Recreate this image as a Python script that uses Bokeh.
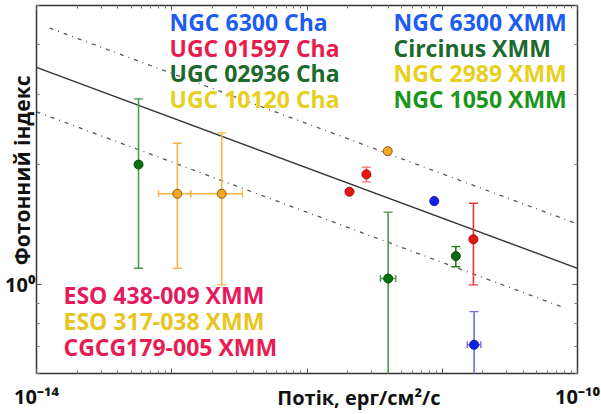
import math
from bokeh.plotting import figure
from bokeh.models import ColumnDataSource, FixedTicker, LogAxis, Label, Range1d
from bokeh.embed import file_html
from bokeh.resources import INLINE

NaN = float("nan")

# ---- fitted relation and its band (log-log straight lines) ----
fit_x = [1e-14, 1e-10]
fit_y = [3.50, 1.10]
upper_x = [1.25e-14, 1e-10]
upper_y = [4.39, 1.42]
lower_x = [1e-14, 8.15e-11]
lower_y = [2.71, 0.874]

# ---- measured points: flux (erg/cm^2/s) and photon index ----
flux = [5.68e-14, 1.10e-13, 2.34e-13, 3.95e-12, 2.06e-12, 2.75e-12,
        8.73e-12, 1.70e-11, 1.26e-11, 3.98e-12, 1.72e-11]
index = [2.00, 1.69, 1.69, 2.16, 1.71, 1.89, 1.62, 1.30, 1.18, 1.037, 0.708]
index_lo = [1.10, 1.10, 1.00, NaN, NaN, 1.81, NaN, 1.00, 1.11, 0.55, 0.55]
index_hi = [2.92, 2.26, 2.40, NaN, NaN, 1.97, NaN, 1.60, 1.246, 1.52, 0.857]
flux_lo = [5.45e-14, 7.98e-14, 1.38e-13, NaN, NaN, 2.65e-12, NaN, NaN, NaN, 3.49e-12, 1.53e-11]
flux_hi = [5.90e-14, 1.38e-13, 3.33e-13, NaN, NaN, 2.85e-12, NaN, NaN, NaN, 4.54e-12, 1.93e-11]

# ---- source names (coloured text key) ----
names_cha = ["NGC 6300 Cha", "UGC 01597 Cha", "UGC 02936 Cha", "UGC 10120 Cha"]
names_xmm = ["NGC 6300 XMM", "Circinus XMM", "NGC 2989 XMM", "NGC 1050 XMM"]
names_bottom = ["ESO 438-009 XMM", "ESO 317-038 XMM", "CGCG179-005 XMM"]

# ---- axis ticks and labels ----
x_major = [1e-14, 1e-13, 1e-12, 1e-11, 1e-10]
x_major_labels = ["10⁻¹⁴", "", "", "", "10⁻¹⁰"]
y_major = [1.0]
y_major_labels = ["10⁰"]
x_title = "Потік, ерг/см²/с"
y_title = "Фотонний індекс"

# ---- styles ----
fill_cols = ["#0c6e12", "#f5a623", "#f5a623", "#f5a623", "#e8140e", "#e8140e",
             "#1020ee", "#e8140e", "#0c6e12", "#0c6e12", "#1020ee"]
edge_cols = ["#0a4a0a", "#8a5a10", "#8a5a10", "#8a5a10", "#a01010", "#a01010",
             "#10108a", "#a01010", "#0a4a0a", "#0a4a0a", "#10108a"]
bar_cols = ["#4e9a4e", "#f5b540", "#f5b540", "#f5b540", "#f07070", "#f07070",
            "#4050e0", "#e83838", "#207a20", "#4a9a4a", "#6a70e0"]
cha_cols = ["#1d5cf0", "#e81c4c", "#1a6a2c", "#e8cf1c"]
xmm_cols = ["#1d5cf0", "#1a6a2c", "#e8cf1c", "#1a961a"]
bottom_cols = ["#e8185c", "#e8c420", "#e81c50"]
FONT = "Open Sans"
NB = "\u00a0"

p = figure(width=601, height=414, x_axis_type="log", y_axis_type="log",
           x_range=Range1d(1e-14, 1e-10), y_range=Range1d(0.6, 5.0),
           output_backend="svg", toolbar_location=None,
           min_border_left=36, min_border_right=24, min_border_top=5, min_border_bottom=41)
p.xgrid.visible = False
p.ygrid.visible = False
p.outline_line_color = "#333333"
p.outline_line_width = 1.5
p.outline_line_alpha = 1.0
p.background_fill_color = "white"
p.border_fill_color = "white"

x_minor = [m * 10.0 ** e for e in range(-14, -10) for m in range(2, 10)]
y_minor = [0.6, 0.7, 0.8, 0.9, 2.0, 3.0, 4.0, 5.0]


def style_axis(ax, major, minor, labels=None):
    ax.ticker = FixedTicker(ticks=major, minor_ticks=minor)
    if labels is None:
        ax.major_label_overrides = {t: "" for t in major}
        ax.major_label_text_font_size = "0px"
        ax.major_label_standoff = 0
    else:
        ax.major_label_overrides = dict(zip(major, labels))
        ax.major_label_text_font = FONT
        ax.major_label_text_font_style = "bold"
        ax.major_label_text_font_size = "20px"
        ax.major_label_text_color = "#111111"
    ax.axis_line_color = None
    ax.major_tick_in = 5
    ax.major_tick_out = 0
    ax.minor_tick_in = 3
    ax.minor_tick_out = 0
    ax.major_tick_line_color = "#555555"
    ax.minor_tick_line_color = "#777777"


xa = p.xaxis[0]
style_axis(xa, x_major, x_minor, x_major_labels)
xa.major_label_standoff = 9
xa.axis_label = NB * 20 + x_title
xa.axis_label_text_font = FONT
xa.axis_label_text_font_style = "bold"
xa.axis_label_text_font_size = "20px"
xa.axis_label_text_color = "#111111"
xa.axis_label_standoff = -29

ya = p.yaxis[0]
style_axis(ya, y_major, y_minor, y_major_labels)
ya.major_label_standoff = 1
ya.axis_label = NB * 7 + y_title
ya.axis_label_text_font = FONT
ya.axis_label_text_font_style = "bold"
ya.axis_label_text_font_size = "21px"
ya.axis_label_text_color = "#111111"
ya.axis_label_standoff = -34

top = LogAxis()
style_axis(top, x_major, x_minor)
p.add_layout(top, "above")
right = LogAxis()
style_axis(right, y_major, y_minor)
p.add_layout(right, "right")

# lines
p.line(fit_x, fit_y, line_color="#333333", line_width=1.4)
p.line(upper_x, upper_y, line_color="#555555", line_width=1.3, line_dash="4 5 1 5")
p.line(lower_x, lower_y, line_color="#555555", line_width=1.3, line_dash="4 5 1 5")

# error bars
ey = [i for i in range(len(flux)) if not math.isnan(index_lo[i])]
ex = [i for i in range(len(flux)) if not math.isnan(flux_lo[i])]
ys = ColumnDataSource(dict(x=[flux[i] for i in ey], lo=[index_lo[i] for i in ey],
                           hi=[index_hi[i] for i in ey], c=[bar_cols[i] for i in ey]))
xs = ColumnDataSource(dict(y=[index[i] for i in ex], lo=[flux_lo[i] for i in ex],
                           hi=[flux_hi[i] for i in ex], c=[bar_cols[i] for i in ex]))
p.segment(x0="x", y0="lo", x1="x", y1="hi", line_color="c", line_width=1.6, source=ys)
p.scatter(x="x", y="lo", marker="dash", size=9, line_color="c", line_width=1.4, source=ys)
p.scatter(x="x", y="hi", marker="dash", size=9, line_color="c", line_width=1.4, source=ys)
p.segment(x0="lo", y0="y", x1="hi", y1="y", line_color="c", line_width=1.6, source=xs)
p.scatter(x="lo", y="y", marker="dash", angle=math.pi / 2, size=7, line_color="c", line_width=1.4, source=xs)
p.scatter(x="hi", y="y", marker="dash", angle=math.pi / 2, size=7, line_color="c", line_width=1.4, source=xs)

# points
ps = ColumnDataSource(dict(x=flux, y=index, f=fill_cols, e=edge_cols))
p.scatter(x="x", y="y", size=9, fill_color="f", line_color="e", line_width=1.0, source=ps)

# ---- coloured key texts (canvas pixel baselines, converted to frame offsets) ----
FL, FB = 36, 373


def put(text, cx, cy, color, size=23):
    p.add_layout(Label(x=cx - FL, y=FB - cy + 6, x_units="screen", y_units="screen",
                       text=text, text_color=color, text_font=FONT,
                       text_font_size=f"{size}px", text_font_style="bold",
                       text_align="left", text_baseline="alphabetic"))


rows = [27, 53, 78.5, 104]
for name, col, cy in zip(names_cha, cha_cols, rows):
    put(name, 169, cy, col)
for name, col, cy in zip(names_xmm, xmm_cols, rows):
    put(name, 393, cy, col)
for name, col, cy in zip(names_bottom, bottom_cols, [300, 326.5, 352]):
    put(name, 63, cy, col)

open("out.html", "w").write(file_html(p, INLINE))
